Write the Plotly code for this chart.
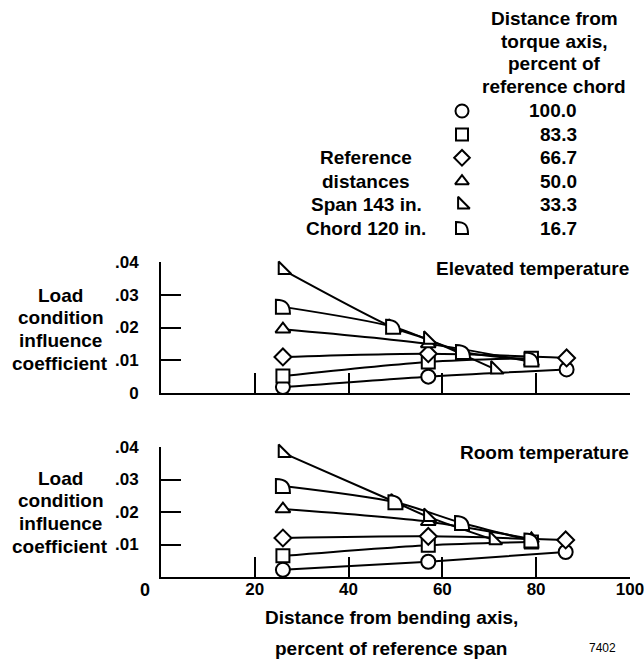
import plotly.graph_objects as go

# Chordwise positions (percent of reference chord), one series per position
chord_labels = ["100.0", "83.3", "66.7", "50.0", "33.3", "16.7"]

# Elevated temperature: spanwise station (percent span) and influence coefficient
elev_x_100 = [26.0, 57.0, 86.5]
elev_y_100 = [0.0018, 0.0050, 0.0072]
elev_x_83 = [26.0, 57.0, 79.0]
elev_y_83 = [0.0052, 0.0095, 0.0106]
elev_x_67 = [26.0, 57.0, 86.5]
elev_y_67 = [0.0110, 0.0120, 0.0107]
elev_x_50 = [26.0, 57.0, 79.0]
elev_y_50 = [0.0195, 0.0150, 0.0095]
elev_x_33 = [26.0, 49.5, 57.0, 71.3]
elev_y_33 = [0.0376, 0.0200, 0.0163, 0.0072]
elev_x_17 = [26.0, 49.5, 64.4, 79.0]
elev_y_17 = [0.0263, 0.0202, 0.0125, 0.0102]

# Room temperature
room_x_100 = [26.0, 57.0, 86.3]
room_y_100 = [0.0022, 0.0047, 0.0077]
room_x_83 = [26.0, 57.0, 79.0]
room_y_83 = [0.0065, 0.0098, 0.0108]
room_x_67 = [26.0, 57.0, 86.3]
room_y_67 = [0.0120, 0.0125, 0.0114]
room_x_50 = [26.0, 57.0, 79.0]
room_y_50 = [0.0209, 0.0170, 0.0117]
room_x_33 = [26.0, 50.0, 57.0, 71.0]
room_y_33 = [0.0382, 0.0230, 0.0185, 0.0114]
room_x_17 = [26.0, 50.0, 64.2, 79.0]
room_y_17 = [0.0280, 0.0230, 0.0166, 0.0112]

y_tickvals = [0, 0.01, 0.02, 0.03, 0.04]
y_ticktext = ["0", ".01", ".02", ".03", ".04"]
x_tickvals = [20, 40, 60, 80, 100]
x_ticktext = ["20", "40", "60", "80", "100"]

FONT = "Liberation Sans, Arial, Helvetica, sans-serif"
FS = 19
W, H = 644, 663
ML, MR = 161, 14
PLOT_W = W - ML - MR

# marker style per chord position; None -> drawn as a custom path shape
symbols = ["circle", "square", "diamond", "triangle-up", "triangle-sw", None]
sizes = [14, 13, 13, 13, 14, None]
# rounded quarter-disc outline (pixel offsets, y up)
D_PATH = "M-7,-7 V7 C3,7 7,3 7,-7 Z"

elev = [(elev_x_100, elev_y_100), (elev_x_83, elev_y_83), (elev_x_67, elev_y_67),
        (elev_x_50, elev_y_50), (elev_x_33, elev_y_33), (elev_x_17, elev_y_17)]
room = [(room_x_100, room_y_100), (room_x_83, room_y_83), (room_x_67, room_y_67),
        (room_x_50, room_y_50), (room_x_33, room_y_33), (room_x_17, room_y_17)]


def px_x(px):
    """page pixel column -> paper x"""
    return (px - ML) / PLOT_W


def px_y(py):
    """page pixel row (from top) -> paper y"""
    return 1 - py / H


fig = go.Figure()
shapes = []

panels = [(elev, "x", "y"), (room, "x2", "y2")]

# curves first so that every open marker sits on top of all lines
for data, xa, ya in panels:
    for xs, ys in data:
        fig.add_trace(go.Scatter(
            x=xs, y=ys, xaxis=xa, yaxis=ya, mode="lines",
            line=dict(color="black", width=2, shape="spline", smoothing=0.8),
            hoverinfo="skip", showlegend=False, cliponaxis=False))

for data, xa, ya in panels:
    for i, (xs, ys) in enumerate(data):
        if symbols[i] is None:
            for xv, yv in zip(xs, ys):
                shapes.append(dict(
                    type="path", xref=xa, yref=ya, xsizemode="pixel", ysizemode="pixel",
                    xanchor=xv, yanchor=yv, path=D_PATH, fillcolor="white",
                    line=dict(color="black", width=2), layer="above"))
        else:
            fig.add_trace(go.Scatter(
                x=xs, y=ys, xaxis=xa, yaxis=ya, mode="markers",
                marker=dict(symbol=symbols[i], size=sizes[i], color="white",
                            line=dict(color="black", width=2)),
                name=chord_labels[i], showlegend=False, cliponaxis=False))

# key: symbol column on a hidden full-page axis measured in page pixels
key_rows_y = [111 + 23.4 * k for k in range(len(chord_labels))]
key_sym_x = 462
for i, yk in enumerate(key_rows_y):
    if symbols[i] is None:
        shapes.append(dict(
            type="path", xref="x3", yref="y3", xsizemode="pixel", ysizemode="pixel",
            xanchor=key_sym_x, yanchor=yk, path="M-6,-6 V6 C3,6 6,3 6,-6 Z",
            fillcolor="white", line=dict(color="black", width=2), layer="above"))
    else:
        fig.add_trace(go.Scatter(
            x=[key_sym_x], y=[yk], xaxis="x3", yaxis="y3", mode="markers",
            marker=dict(symbol=symbols[i], size=sizes[i] - 1, color="white",
                        line=dict(color="black", width=2)),
            showlegend=False, hoverinfo="skip", cliponaxis=False))

annotations = []


def txt(x, y, s, xanchor="center", size=FS, bold=True):
    annotations.append(dict(
        x=px_x(x), y=px_y(y), xref="paper", yref="paper", text=s, showarrow=False,
        xanchor=xanchor, yanchor="middle",
        font=dict(family=FONT, size=size, color="black",
                  weight="bold" if bold else "normal")))


for k, line in enumerate(["Distance from", "torque axis,", "percent of", "reference chord"]):
    txt(554, 18 + 23 * k, line)
for lab, yk in zip(chord_labels, key_rows_y):
    txt(579, yk, lab, xanchor="right")
for k, line in enumerate(["Reference", "distances", "Span 143 in.", "Chord 120 in."]):
    txt(366, key_rows_y[2 + k], line)

for top in (295, 478):
    for k, line in enumerate(["Load", "condition", "influence", "coefficient"]):
        txt(60, top + 22.7 * k, line)

txt(631, 268, "Elevated temperature", xanchor="right")
txt(631, 452, "Room temperature", xanchor="right")
txt(391, 617, "Distance from bending axis,")
txt(391, 648, "percent of reference span")
txt(602, 648, "7402", size=12, bold=False)

# zero of the lower panel, set beneath the axis corner
annotations.append(dict(
    x=0, y=0, xref="x2", yref="y2", text="0", showarrow=False,
    xanchor="center", yanchor="middle", xshift=-16, yshift=-13,
    font=dict(family=FONT, size=18, color="black", weight="bold")))

axis_common = dict(
    showline=True, linecolor="black", linewidth=2, ticks="inside", ticklen=20,
    tickwidth=2, tickcolor="black", showgrid=False, zeroline=False, fixedrange=True,
    ticklabeloverflow="allow", automargin=False)
x_axis_common = dict(axis_common,
                     tickfont=dict(family=FONT, size=17, color="black", weight="bold"))
y_axis_common = dict(axis_common,
                     tickfont=dict(family=FONT, size=17, color="black", weight="bold"))

fig.update_layout(
    width=W, height=H,
    margin=dict(l=ML, r=MR, t=0, b=0, autoexpand=False),
    paper_bgcolor="white", plot_bgcolor="rgba(0,0,0,0)",
    showlegend=False,
    xaxis=dict(domain=[0, 1], range=[0, 100.02], anchor="y", tickvals=x_tickvals,
               showticklabels=False, **x_axis_common),
    yaxis=dict(domain=[px_y(393), px_y(262)], range=[0, 0.04], anchor="x",
               tickvals=y_tickvals, ticktext=y_ticktext, ticklabelstandoff=17, **y_axis_common),
    xaxis2=dict(domain=[0, 1], range=[0, 100.02], anchor="y2", tickvals=x_tickvals,
                ticktext=x_ticktext, ticklabelstandoff=-4, **x_axis_common),
    yaxis2=dict(domain=[px_y(577), px_y(447)], range=[0, 0.04], anchor="x2",
                tickvals=y_tickvals[1:], ticktext=y_ticktext[1:], ticklabelstandoff=17,
                **y_axis_common),
    xaxis3=dict(domain=[0, 1], range=[ML, W - MR], anchor="y3", visible=False,
                fixedrange=True, automargin=False),
    yaxis3=dict(domain=[0, 1], range=[H, 0], anchor="x3", visible=False,
                fixedrange=True, automargin=False),
    shapes=shapes,
    annotations=annotations,
)

fig.write_html("out.html")
